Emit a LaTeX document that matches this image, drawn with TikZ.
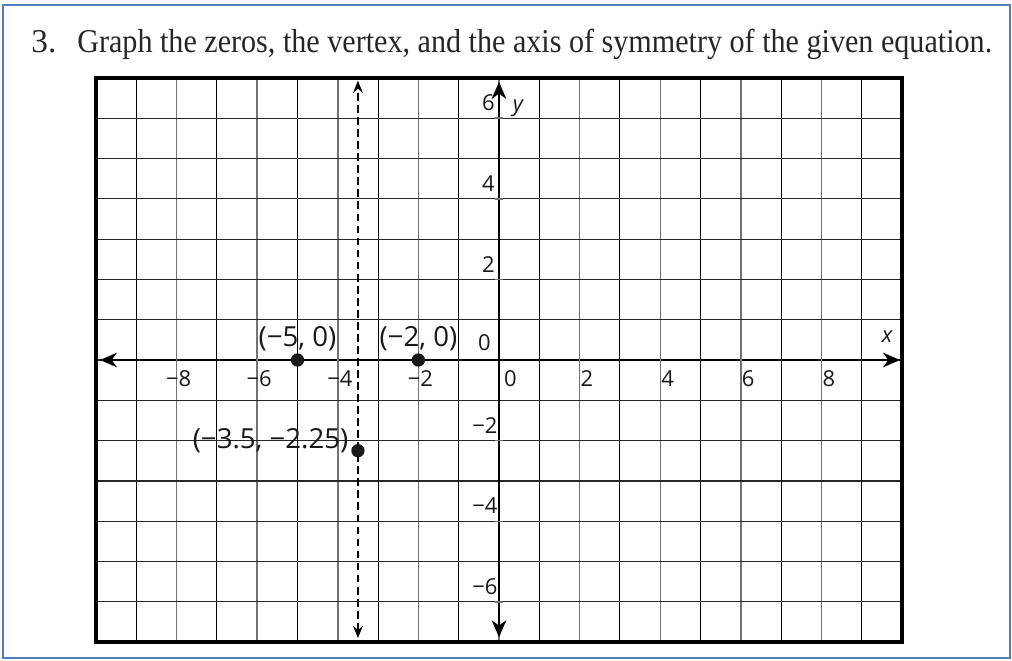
\documentclass[tikz,border=0pt]{standalone}
\usepackage{fontspec}
\usepackage{graphicx}
\setmainfont{Liberation Serif}
\setsansfont{Open Sans}
\usepackage{tikz}
\usetikzlibrary{positioning,arrows.meta}
\definecolor{FrameBlue}{RGB}{84,125,185}
\definecolor{GridGray}{RGB}{115,115,115}
\tikzset{
  frame/.style={draw=FrameBlue,line width=1.3pt},
  title/.style={inner sep=0pt,font=\fontsize{23.5}{27}\selectfont,text=black!85},
  gridodd/.style={draw=black,line width=0.8pt},
  grideven/.style={draw=GridGray,line width=1pt},
  gridrow/.style={draw=black!85,line width=0.85pt},
  border/.style={draw=black,line width=3pt},
  axis/.style={draw=black,line width=1.7pt,{Stealth[length=4.2mm,width=3.6mm,inset=1.3mm]}-{Stealth[length=4.2mm,width=3.6mm,inset=1.3mm]}},
  symline/.style={draw=black,line width=1.1pt,dash pattern=on 5.5pt off 3pt,{Stealth[length=3mm,width=2.4mm,inset=1mm]}-{Stealth[length=3mm,width=2.4mm,inset=1mm]}},
  tickmark/.style={draw=GridGray,line width=1pt},
}
\tikzset{dot/.style={circle,fill=black!90,inner sep=0pt,minimum size=3.3mm}, ticklab/.style={inner sep=0pt,font=\sffamily\fontsize{15.5}{18}\selectfont,text=black!90}, ptlab/.style={inner sep=0pt,font=\sffamily\fontsize{19.5}{23}\selectfont,text=black!90}, varlab/.style={inner sep=0pt,font=\sffamily\itshape\fontsize{15.5}{18}\selectfont,text=black!90}}

\begin{document}
\begin{tikzpicture}
\useasboundingbox (-12.382,-7.444) rectangle (12.729,8.933);
\draw[frame] (-12.31,-7.39) rectangle (12.68,8.81);
\node[title,anchor=base west] (num) at (-11.61,7.64) {3.};
\node[title,anchor=base west] (task) at (-10.47,7.64) {\resizebox{22.7cm}{\height}{Graph the zeros, the vertex, and the axis of symmetry of the given equation.}};
% grid
\foreach \i in {-9,-7,...,9} \draw[gridodd] (\i,-7) -- (\i,7);
\foreach \i in {-8,-6,...,8} \draw[grideven] (\i,-7) -- (\i,7);
\foreach \j in {-6,...,6} \draw[gridrow] (-10,\j) -- (10,\j);
\draw[border] (-10,-7) rectangle (10,7);
% axes
\coordinate (xl) at (-9.9,0);
\coordinate (xr) at (9.95,0);
\coordinate (yb) at (0,-6.88);
\coordinate (yt) at (0,6.9);
\draw[axis] (xl) -- (xr);
\draw[axis] (yb) -- (yt);
\foreach \n in {2,4,6,8} {
  \draw[tickmark] (\n,-0.1) -- (\n,0.1);
  \draw[tickmark] (-\n,-0.1) -- (-\n,0.1);
  \node[ticklab] (xm\n) at (-\n+0.05,-0.47) {−\n};
  \node[ticklab,anchor=west] (xp\n) at (\n+0.02,-0.47) {\n};
}
\foreach \n in {2,4,6} {
  \draw[tickmark] (-0.1,\n) -- (0.1,\n);
  \draw[tickmark] (-0.1,-\n) -- (0.1,-\n);
  \node[ticklab,anchor=east] (yp\n) at (-0.1,\n+0.38) {\n};
  \node[ticklab,anchor=east] (ym\n) at (-0.03,-\n+0.38) {−\n};
}
\node[ticklab,anchor=west] (x0) at (0.12,-0.47) {0};
\node[ticklab,anchor=east] (y0) at (-0.2,0.42) {0};
\node[varlab] (xname) at (9.63,0.57) {x};
\node[varlab] (yname) at (0.47,6.25) {y};
% axis of symmetry
\coordinate (st) at (-3.5,6.93);
\coordinate (sb) at (-3.5,-6.9);
\draw[symline] (sb) -- (st);
% zeros and vertex
\node[dot] (zA) at (-5,0) {};
\node[dot] (zB) at (-2,0) {};
\node[dot] (vtx) at (-3.5,-2.25) {};
\node[ptlab,above=0.04cm of zA] (labA) {(−5, 0)};
\node[ptlab,above=0.04cm of zB] (labB) {(−2, 0)};
\node[ptlab,anchor=east] (labV) at ([xshift=-0.06cm,yshift=0.24cm]vtx.west) {(−3.5, −2.25)};
\end{tikzpicture}
\end{document}
